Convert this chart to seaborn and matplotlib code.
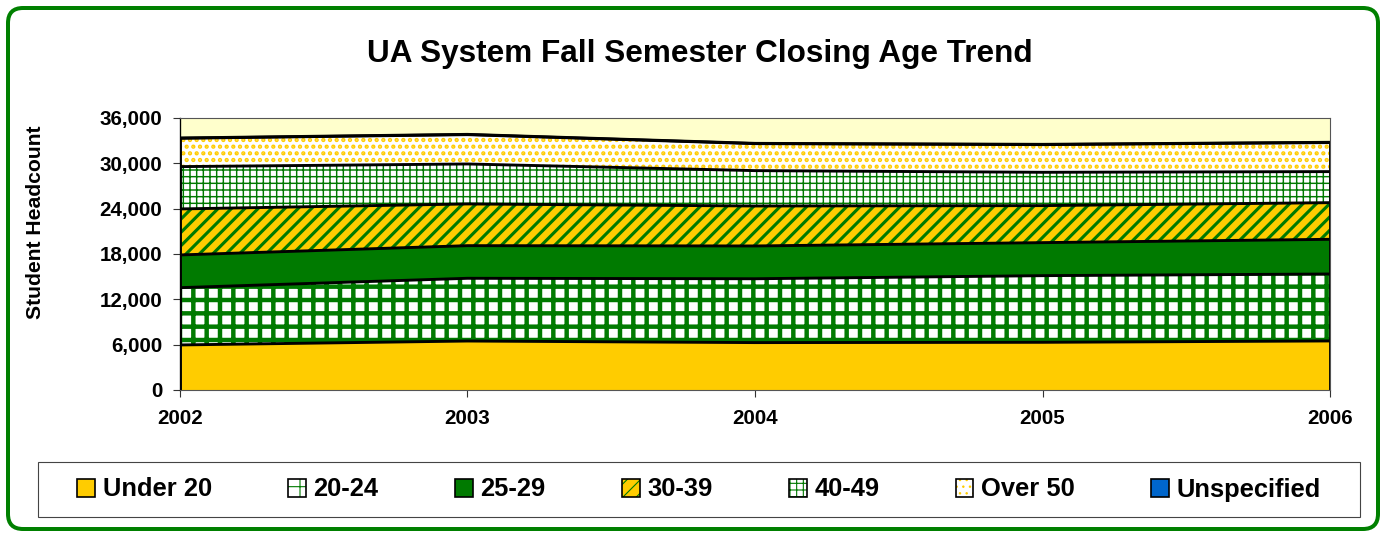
import numpy as np
import matplotlib
matplotlib.use("Agg")
import matplotlib.pyplot as plt
import seaborn as sns
from matplotlib.patches import Patch, FancyBboxPatch, Rectangle
from matplotlib.ticker import FuncFormatter

# data (headcount per age group)
years = [2002, 2003, 2004, 2005, 2006]
age_groups = ["Under 20", "20-24", "25-29", "30-39", "40-49", "Over 50", "Unspecified"]
under_20 = [5960, 6480, 6270, 6310, 6490]
age_20_24 = [7580, 8300, 8450, 8820, 8860]
age_25_29 = [4330, 4320, 4340, 4370, 4590]
age_30_39 = [6090, 5520, 5290, 4900, 4850]
age_40_49 = [5600, 5290, 4680, 4410, 4110]
over_50 = [3750, 3880, 3570, 3660, 3840]
unspecified = [40, 40, 40, 40, 40]
y_ticks = [0, 6000, 12000, 18000, 24000, 30000, 36000]

series = [under_20, age_20_24, age_25_29, age_30_39, age_40_49, over_50, unspecified]

# fill styles: face colour, hatch, hatch colour, hatch line width
GREEN = "#007A00"
GOLD = "#FFCC00"
faces = [GOLD, "white", GREEN, GOLD, "white", "white", "#0066CC"]
hatches = ["", "+", "", "//", "++", "..", ""]
hatch_cols = [GOLD, GREEN, GREEN, GREEN, GREEN, GOLD, "#0066CC"]
hatch_lws = [1.0, 4.0, 1.0, 2.8, 1.3, 2.6, 1.0]

DPI = 80
sns.set_theme(style="white")
plt.rcParams["font.family"] = ["Liberation Sans", "DejaVu Sans"]
plt.rcParams["font.weight"] = "bold"
plt.rcParams["text.color"] = "black"
plt.rcParams["xtick.labelcolor"] = "black"
plt.rcParams["ytick.labelcolor"] = "black"

fig = plt.figure(figsize=(1382 / DPI, 534 / DPI), dpi=DPI)
fig.patch.set_facecolor("white")

ax = fig.add_axes([0.1302, 0.2697, 0.8322, 0.5094])
ax.set_facecolor("#FFFFCC")

polys = ax.stackplot(years, series, colors=faces, linewidth=0)
for p, h, hc, hlw in zip(polys, hatches, hatch_cols, hatch_lws):
    p.set_edgecolor(hc)
    p.set_linewidth(0)
    if h:
        p.set_hatch(h)
        if hasattr(p, "set_hatch_linewidth"):
            p.set_hatch_linewidth(hlw)

# black borders on top of each layer
tops = np.cumsum(np.array(series), axis=0)
for top in tops:
    sns.lineplot(x=years, y=top, color="black", linewidth=2.6, ax=ax)
ax.vlines([years[0], years[-1]], 0, [tops[-1][0], tops[-1][-1]],
          colors="black", linewidth=2.6)

ax.set_xlim(years[0], years[-1])
ax.set_ylim(0, 36000)
ax.set_xticks(years)
ax.set_yticks(y_ticks)
ax.yaxis.set_major_formatter(FuncFormatter(lambda v, _: f"{int(v):,}"))
ax.tick_params(axis="both", which="both", direction="out", length=6, width=1,
               color="#333333", labelcolor="black", labelsize=18.5,
               left=True, bottom=True)
ax.tick_params(axis="y", pad=10)
ax.tick_params(axis="x", pad=11)
for lab in ax.get_xticklabels() + ax.get_yticklabels():
    lab.set_fontweight("bold")
for side in ["top", "right", "bottom"]:
    ax.spines[side].set_color("#555555")
    ax.spines[side].set_linewidth(1)
ax.spines["left"].set_color("black")
ax.spines["left"].set_linewidth(1.2)
ax.set_xlabel("")
ax.set_ylabel("")

fig.text(0.5065, 0.899, "UA System Fall Semester Closing Age Trend",
         ha="center", va="center", fontsize=28.3, fontweight="bold", color="black")
fig.text(0.0257, 0.583, "Student Headcount", rotation=90, ha="center", va="center",
         fontsize=19, fontweight="bold", color="black")

# legend box drawn separately, entries centred inside it
box = Rectangle((38 / 1382, 1 - 517 / 534), 1322 / 1382, 55 / 534,
                transform=fig.transFigure, facecolor="white",
                edgecolor="#444444", linewidth=1)
fig.patches.append(box)

handles = []
for fc, h, hc in zip(faces, hatches, hatch_cols):
    fill = Patch(facecolor=fc, edgecolor=hc, linewidth=0, hatch=h or None)
    outline = Patch(facecolor="none", edgecolor="black", linewidth=1.5)
    handles.append((fill, outline))
leg = fig.legend(handles, age_groups, ncol=7, loc="center",
                 bbox_to_anchor=(699 / 1382, 1 - 489.5 / 534),
                 borderaxespad=0, frameon=False,
                 handlelength=0.7, handleheight=0.7,
                 handletextpad=0.3, columnspacing=2.98, borderpad=0,
                 prop={"weight": "bold", "size": 23})

# give the legend swatches their coloured hatching back
hatch_colour = {h: hc for h, hc in zip(hatches, hatch_cols) if h}
for r in leg.findobj(lambda a: isinstance(a, Rectangle) and bool(a.get_hatch())):
    col = hatch_colour.get(r.get_hatch(), GREEN)
    r.set_edgecolor(col)
    r.set_linewidth(0)
    if hasattr(r, "set_hatchcolor"):
        r.set_hatchcolor(col)

# rounded green outer border
border = FancyBboxPatch((8 / DPI, 5 / DPI), 1370 / DPI, 521 / DPI,
                        boxstyle=f"round,pad=0,rounding_size={15 / DPI}",
                        transform=fig.dpi_scale_trans, facecolor="none",
                        edgecolor="#008000", linewidth=3.6, clip_on=False)
fig.patches.append(border)

fig.savefig("out.png", dpi=DPI, facecolor="white")
